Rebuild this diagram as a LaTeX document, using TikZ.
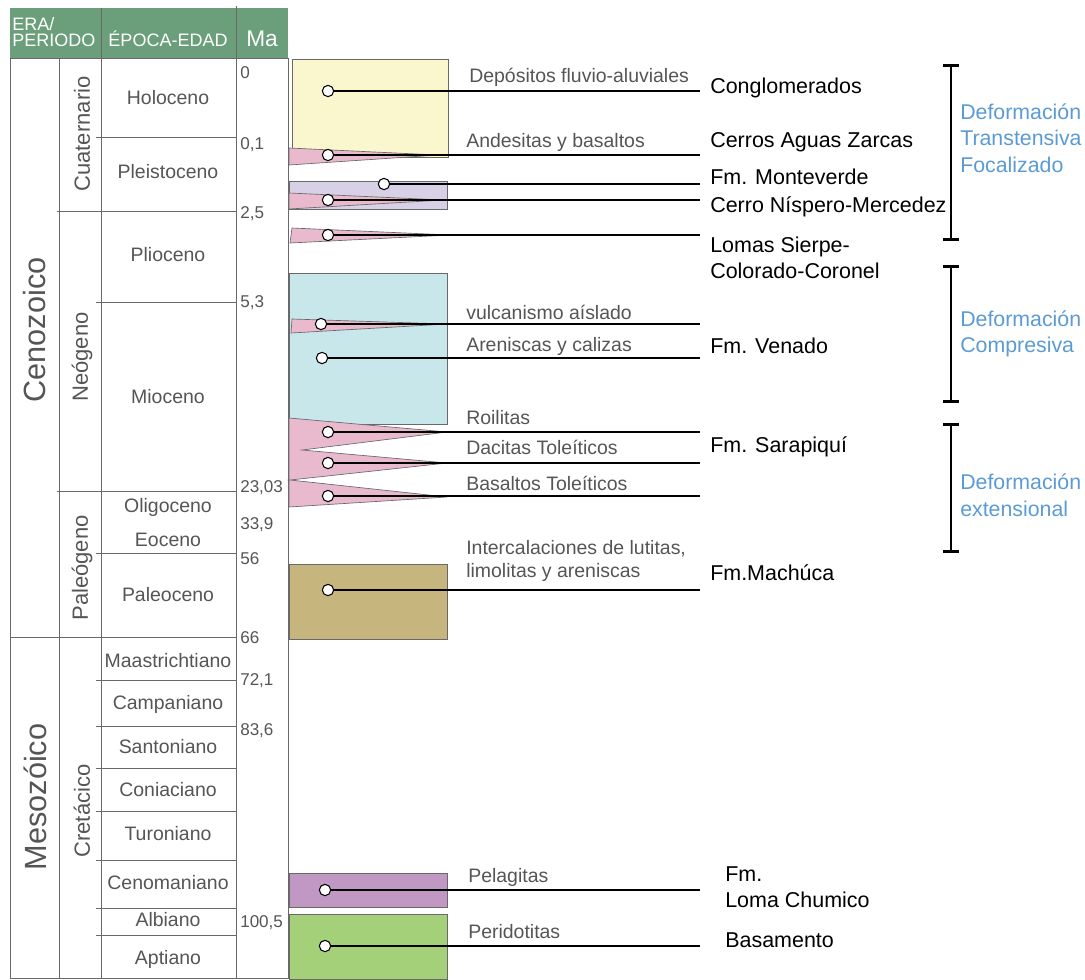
\documentclass[tikz,border=0pt]{standalone}
\usepackage{fontspec}
\setmainfont{Liberation Sans}
\usetikzlibrary{arrows.meta, positioning}
\definecolor{hdrgreen}{RGB}{107,159,123}
\definecolor{txtgray}{RGB}{85,85,85}
\definecolor{linegray}{RGB}{105,105,105}
\definecolor{fmblue}{RGB}{91,155,213}
\definecolor{cuatyellow}{RGB}{250,246,205}
\definecolor{volcpink}{RGB}{233,185,205}
\definecolor{montlav}{RGB}{216,208,230}
\definecolor{venadocyan}{RGB}{200,231,235}
\definecolor{machbrown}{RGB}{198,181,125}
\definecolor{chumpurple}{RGB}{193,151,196}
\definecolor{basegreen}{RGB}{163,208,120}

\begin{document}
\begin{tikzpicture}[x=0.75pt, y=-0.75pt,
  tline/.style={draw=linegray, line width=0.7pt},
  hdr/.style={text=white, font=\fontsize{13.5}{16}\selectfont, inner sep=0pt},
  era/.style={text=txtgray, font=\fontsize{23}{26}\selectfont, inner sep=0pt, rotate=90},
  period/.style={text=txtgray, font=\fontsize{16.5}{19}\selectfont, inner sep=0pt, rotate=90},
  epoch/.style={text=txtgray, font=\fontsize{14.6}{17}\selectfont, inner sep=0pt, text height=1.5ex, text depth=0.35ex},
  manum/.style={text=txtgray, font=\fontsize{12.8}{15}\selectfont, inner sep=0pt, anchor=west},
  unit/.style={draw=linegray, line width=0.5pt},
  wedge/.style={draw=linegray, line width=0.5pt, fill=volcpink},
  dot/.style={circle, draw=black, fill=white, line width=0.8pt, minimum size=8.5pt, inner sep=0pt},
  lead/.style={draw=black, line width=0.9pt},
  litho/.style={text=txtgray, font=\fontsize{14.6}{17.3}\selectfont, inner sep=0pt, anchor=west, align=left},
  fmname/.style={text=black, font=\fontsize{16.1}{19.5}\selectfont, inner sep=0pt, anchor=west, align=left},
  deform/.style={text=fmblue, font=\fontsize{16}{20}\selectfont, inner sep=0pt, anchor=west, align=left},
  brk/.style={draw=black, line width=2pt, {Bar[width=12pt]}-{Bar[width=12pt]}}
]
\useasboundingbox (0,0) rectangle (1085,979);

% time scale table
\fill[hdrgreen] (10,8) rectangle (288,58);
\draw[tline] (101,8) -- (101,58);
\draw[tline] (236,6) -- (236,58);
\node[hdr, anchor=base west] (erahdr) at (12,30) {ERA/};
\node[hdr, anchor=base west] (perhdr) at (12,46) {PERIODO};
\node[hdr, anchor=base] (epohdr) at (168,46) {ÉPOCA-EDAD};
\node[hdr, anchor=base, font=\fontsize{17}{20}\selectfont] (mahdr) at (262,46) {Ma};

\draw[tline] (10,58) rectangle (288,978);
\draw[tline] (59,58) -- (59,978);
\draw[tline] (101,58) -- (101,978);
\draw[tline] (236,58) -- (236,978);
\draw[tline] (96,137) -- (236,137);
\draw[tline] (57,211) -- (236,211);
\draw[tline] (96,302) -- (236,302);
\draw[tline] (57,491) -- (236,491);
\draw[tline] (96,553) -- (236,553);
\draw[tline] (10,637) -- (236,637);
\draw[tline] (96,680) -- (236,680);
\draw[tline] (96,726) -- (236,726);
\draw[tline] (96,768) -- (236,768);
\draw[tline] (96,811) -- (236,811);
\draw[tline] (96,860) -- (236,860);
\draw[tline] (96,908) -- (236,908);
\draw[tline] (96,935) -- (236,935);

\node[era] (cenoz) at (35,330) {Cenozoico};
\node[era] (mesoz) at (35,797) {Mesozóico};
\node[period] (cuat) at (82,134) {Cuaternario};
\node[period] (neog) at (82,357) {Neógeno};
\node[period] (paleog) at (82,568) {Paleógeno};
\node[period] (cret) at (82,811) {Cretácico};

\node[epoch] (holo) at (168,100) {Holoceno};
\node[epoch] (pleis) at (168,174) {Pleistoceno};
\node[epoch] (plio) at (168,257) {Plioceno};
\node[epoch] (mio) at (168,399) {Mioceno};
\node[epoch] (oligo) at (168,508) {Oligoceno};
\node[epoch] (eoc) at (168,542) {Eoceno};
\node[epoch] (paleoc) at (168,597) {Paleoceno};
\node[epoch] (maas) at (168,663) {Maastrichtiano};
\node[epoch] (camp) at (168,705) {Campaniano};
\node[epoch] (sant) at (168,749) {Santoniano};
\node[epoch] (coni) at (168,792) {Coniaciano};
\node[epoch] (turo) at (168,836) {Turoniano};
\node[epoch] (cenom) at (168,885) {Cenomaniano};
\node[epoch] (albi) at (168,922) {Albiano};
\node[epoch] (apti) at (168,960) {Aptiano};

\node[manum] (ma0) at (240,73) {0};
\node[manum] (ma1) at (240,145) {0,1};
\node[manum] (ma2) at (240,214) {2,5};
\node[manum] (ma3) at (240,303) {5,3};
\node[manum] (ma4) at (240,488) {23,03};
\node[manum] (ma5) at (240,525) {33,9};
\node[manum] (ma6) at (240,559) {56};
\node[manum] (ma7) at (240,638) {66};
\node[manum] (ma8) at (240,681) {72,1};
\node[manum] (ma9) at (240,731) {83,6};
\node[manum] (ma10) at (240,923) {100,5};

% lithology column
\draw[unit, fill=cuatyellow] (292,59) rectangle (448,157);
\draw[unit, fill=montlav] (289,181) rectangle (447,209);
\draw[unit, fill=venadocyan] (289,273) rectangle (447,424);
\draw[unit, fill=machbrown] (289,564) rectangle (447,639);
\draw[unit, fill=chumpurple] (289,873) rectangle (447,907);
\draw[unit, fill=basegreen] (289,914) rectangle (447,979);

\draw[wedge] (289,148) -- (438,155) -- (289,165) -- cycle;
\draw[wedge] (289,193) -- (443,200) -- (289,209) -- cycle;
\draw[wedge] (292,228) -- (450,235) -- (290,243) -- cycle;
\draw[wedge] (292,319) -- (447,324) -- (291,333) -- cycle;
\draw[wedge] (289,418) -- (447,432) -- (302,450) -- (447,463) -- (290,480) -- (447,497) -- (289,507) -- cycle;

\node[dot] (conglo) at (328,91) {};
\node[dot] (andes) at (328,155) {};
\node[dot] (monte) at (384,184) {};
\node[dot] (nisp) at (328,200) {};
\node[dot] (sierpe) at (328,235) {};
\node[dot] (vulc) at (321,324) {};
\node[dot] (venado) at (322,358) {};
\node[dot] (roil) at (328,432) {};
\node[dot] (dacit) at (328,463) {};
\node[dot] (basal) at (328,496) {};
\node[dot] (mach) at (328,590) {};
\node[dot] (pelag) at (325,890) {};
\node[dot] (perid) at (325,946) {};

\coordinate (conglo-e) at (700,91);
\coordinate (andes-e) at (700,155);
\coordinate (monte-e) at (700,184);
\coordinate (nisp-e) at (700,200);
\coordinate (sierpe-e) at (700,235);
\coordinate (vulc-e) at (700,324);
\coordinate (venado-e) at (700,358);
\coordinate (roil-e) at (700,432);
\coordinate (dacit-e) at (700,463);
\coordinate (basal-e) at (700,496);
\coordinate (mach-e) at (700,590);
\coordinate (pelag-e) at (700,890);
\coordinate (perid-e) at (700,946);

\draw[lead] (conglo) -- (conglo-e);
\draw[lead] (andes) -- (andes-e);
\draw[lead] (monte) -- (monte-e);
\draw[lead] (nisp) -- (nisp-e);
\draw[lead] (sierpe) -- (sierpe-e);
\draw[lead] (vulc) -- (vulc-e);
\draw[lead] (venado) -- (venado-e);
\draw[lead] (roil) -- (roil-e);
\draw[lead] (dacit) -- (dacit-e);
\draw[lead] (basal) -- (basal-e);
\draw[lead] (mach) -- (mach-e);
\draw[lead] (pelag) -- (pelag-e);
\draw[lead] (perid) -- (perid-e);

\node[litho] (deplab) at (469,77) {Depósitos fluvio-aluviales};
\node[litho] (andlab) at (466,142) {Andesitas y basaltos};
\node[litho] (vullab) at (466,312) {vulcanismo aíslado};
\node[litho] (arelab) at (466,346) {Areniscas y calizas};
\node[litho] (roilab) at (466,418) {Roilitas};
\node[litho] (daclab) at (466,447) {Dacitas Toleíticos};
\node[litho] (baslab) at (466,483) {Basaltos Toleíticos};
\node[litho] (intlab) at (466,561) {Intercalaciones de lutitas,\\limolitas y areniscas};
\node[litho] (pellab) at (468,877) {Pelagitas};
\node[litho] (perlab) at (468,932) {Peridotitas};

\node[fmname] (congfm) at (710,88) {Conglomerados};
\node[fmname] (aguasfm) at (710,142) {Cerros Aguas Zarcas};
\node[fmname] (montefm) at (710,177) {Fm. Monteverde};
\node[fmname] (nispfm) at (710,207) {Cerro Níspero-Mercedez};
\node[fmname] (sierfm) at (710,258) {Lomas Sierpe-\\Colorado-Coronel};
\node[fmname] (venfm) at (710,346) {Fm. Venado};
\node[fmname] (sarfm) at (710,447) {Fm. Sarapiquí};
\node[fmname] (machfm) at (710,573) {Fm.Machúca};
\node[fmname] (chumfm) at (725,887) {Fm.\\Loma Chumico};
\node[fmname] (basfm) at (725,940) {Basamento};

% deformation phases
\coordinate (trans-t) at (951,64);
\coordinate (trans-b) at (951,241);
\coordinate (comp-t) at (951,265);
\coordinate (comp-b) at (951,403);
\coordinate (ext-t) at (951,423);
\coordinate (ext-b) at (951,553);
\draw[brk] (trans-t) -- (trans-b);
\draw[brk] (comp-t) -- (comp-b);
\draw[brk] (ext-t) -- (ext-b);
\node[deform] (translab) at (960,138) {Deformación\\Transtensiva\\Focalizado};
\node[deform] (complab) at (960,334) {Deformación\\Compresiva};
\node[deform] (extlab) at (960,495) {Deformación\\extensional};
\end{tikzpicture}
\end{document}
